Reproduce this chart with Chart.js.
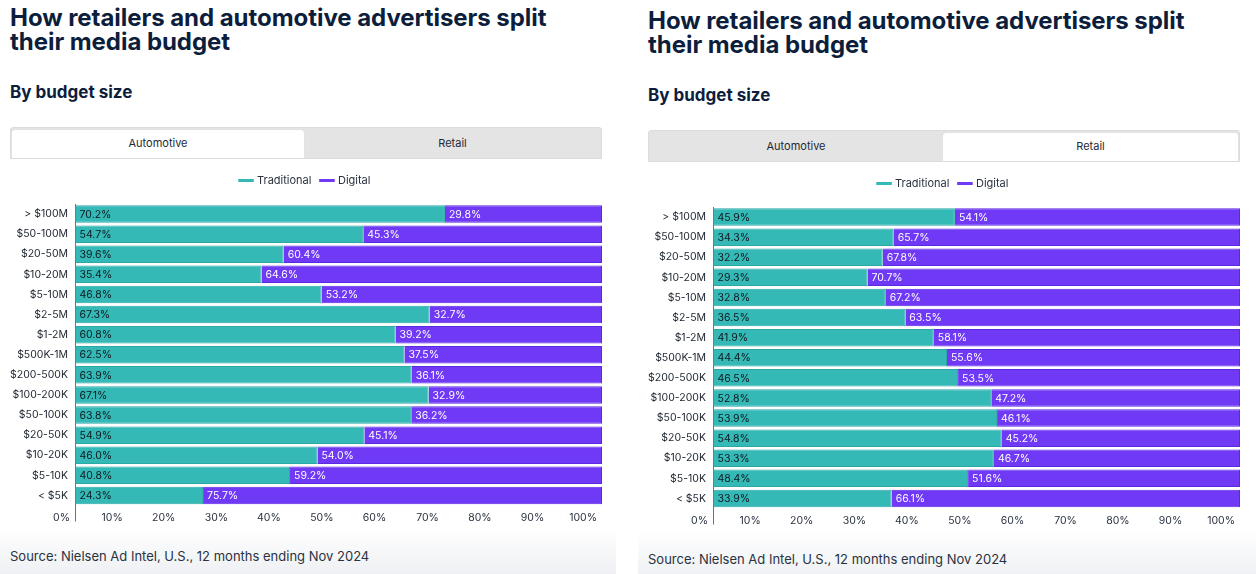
<!DOCTYPE html>
<html>
<head>
<meta charset="utf-8">
<script src="https://cdn.jsdelivr.net/npm/chart.js@4/dist/chart.umd.min.js"></script>
<style>
  html, body { margin: 0; padding: 0; background: #fff; }
  body { width: 1256px; height: 574px; position: relative; overflow: hidden; font-family: Inter, "Noto Sans", sans-serif; color: #0c1e3c; }
  .panel { position: absolute; top: 0; width: 616px; height: 574px; }
  .panel .foot { position: absolute; left: 0; right: 0; top: 528px; height: 46px; background: linear-gradient(#ffffff, #eef0f3); }
  .panel h1 { position: absolute; left: 10px; top: 6px; margin: 0; font-size: 24px; line-height: 24px; font-weight: 700; letter-spacing: -0.05px; }
  .panel h2 { position: absolute; left: 10px; top: 81px; margin: 0; font-size: 17px; line-height: 22px; font-weight: 700; }
  .tabs { position: absolute; left: 10px; top: 127px; width: 590px; height: 30px; background: #e4e4e4; border: 1px solid #dcdcdc; border-radius: 3px 3px 0 0; }
  .tab { position: absolute; top: 2px; height: 28px; line-height: 26px; text-align: center; font-size: 11px; color: #1d2838; }
  .tab.on { background: #fff; border-radius: 3px 3px 0 0; box-shadow: 0 0 1px #cfcfcf; }
  .tab.a { left: 1px; width: 292px; }
  .tab.b { left: 294px; width: 295px; }
  .chartbox { position: absolute; left: 0; top: 165px; width: 602px; height: 365px; }
  .source { position: absolute; left: 10px; top: 548px; font-size: 13px; color: #2a3240; }
</style>
</head>
<body>

<div class="panel" id="p1" style="left:0;">
  <div class="foot"></div>
  <h1>How retailers and automotive advertisers split<br>their media budget</h1>
  <h2>By budget size</h2>
  <div class="tabs"><div class="tab a on">Automotive</div><div class="tab b">Retail</div></div>
  <div class="chartbox"><canvas id="autoChart"></canvas></div>
  <div class="source">Source: Nielsen Ad Intel, U.S., 12 months ending Nov 2024</div>
</div>

<div class="panel" id="p2" style="left:638px; top:3px; width:618px;">
  <div class="foot"></div>
  <h1>How retailers and automotive advertisers split<br>their media budget</h1>
  <h2>By budget size</h2>
  <div class="tabs"><div class="tab a">Automotive</div><div class="tab b on">Retail</div></div>
  <div class="chartbox"><canvas id="retailChart"></canvas></div>
  <div class="source">Source: Nielsen Ad Intel, U.S., 12 months ending Nov 2024</div>
</div>

<script>
// budget size buckets, top to bottom
const budgetSizes = ['> $100M', '$50-100M', '$20-50M', '$10-20M', '$5-10M', '$2-5M', '$1-2M', '$500K-1M',
  '$200-500K', '$100-200K', '$50-100K', '$20-50K', '$10-20K', '$5-10K', '< $5K'];

// share of spend, in percent
const autoTraditional = [70.2, 54.7, 39.6, 35.4, 46.8, 67.3, 60.8, 62.5, 63.9, 67.1, 63.8, 54.9, 46.0, 40.8, 24.3];
const autoDigital = [29.8, 45.3, 60.4, 64.6, 53.2, 32.7, 39.2, 37.5, 36.1, 32.9, 36.2, 45.1, 54.0, 59.2, 75.7];
const retailTraditional = [45.9, 34.3, 32.2, 29.3, 32.8, 36.5, 41.9, 44.4, 46.5, 52.8, 53.9, 54.8, 53.3, 48.4, 33.9];
const retailDigital = [54.1, 65.7, 67.8, 70.7, 67.2, 63.5, 58.1, 55.6, 53.5, 47.2, 46.1, 45.2, 46.7, 51.6, 66.1];

// x axis ticks (percent)
const xTicks = [0, 10, 20, 30, 40, 50, 60, 70, 80, 90, 100];

const TEAL = '#34b9b6';
const PURPLE = '#6f39f6';
const AXIS = '#6b7280';
const FONT = 'Inter, "Noto Sans", sans-serif';
const SMALL = 10.5;

// Write the value at the start of every bar segment
const barLabels = {
  id: 'barLabels',
  afterDatasetsDraw(chart) {
    const ctx = chart.ctx;
    ctx.save();
    ctx.font = SMALL + 'px ' + FONT;
    ctx.textBaseline = 'middle';
    ctx.textAlign = 'left';
    chart.data.datasets.forEach((ds, i) => {
      chart.getDatasetMeta(i).data.forEach((bar, j) => {
        ctx.fillStyle = ds.labelColor;
        ctx.fillText(ds.data[j].toFixed(1) + '%', bar.base + 4, bar.y + 0.5);
      });
    });
    ctx.restore();
  }
};

// a bit more room under the legend, and centre it over the tabs rather than the canvas
const legendTweak = {
  id: 'legendTweak',
  afterInit(chart) {
    const fit = chart.legend.fit;
    chart.legend.fit = function () { fit.call(this); this.height += 8; };
  },
  afterLayout(chart) {
    chart.legend.left += 9;
  }
};

const makeChart = (canvasId, traditional, digital) => {
  return new Chart(document.getElementById(canvasId), {
    type: 'bar',
    data: {
      labels: budgetSizes,
      datasets: [
        { label: 'Traditional', data: traditional, backgroundColor: TEAL, borderColor: '#2aa9a6', borderWidth: 1, labelColor: '#10181f' },
        { label: 'Digital', data: digital, backgroundColor: PURPLE, borderColor: '#5b28e3', borderWidth: 1, labelColor: '#ffffff' }
      ]
    },
    options: {
      indexAxis: 'y',
      responsive: true,
      maintainAspectRatio: false,
      animation: false,
      layout: { padding: 0 },
      datasets: { bar: { barPercentage: 0.87, categoryPercentage: 1 } },
      plugins: {
        tooltip: { enabled: false },
        legend: {
          position: 'top',
          labels: {
            usePointStyle: true,
            pointStyle: 'line',
            boxWidth: 12,
            padding: 10,
            color: '#2a3240',
            font: { family: FONT, size: 11 },
            generateLabels(chart) {
              return Chart.defaults.plugins.legend.labels.generateLabels(chart).map(item => ({
                ...item, pointStyle: 'line', lineWidth: 3, strokeStyle: item.fillStyle
              }));
            }
          }
        }
      },
      scales: {
        x: {
          stacked: true,
          min: xTicks[0],
          max: xTicks[xTicks.length - 1],
          ticks: {
            stepSize: xTicks[1] - xTicks[0],
            callback: v => v + '%',
            align: 'end',
            labelOffset: -5,
            padding: -10,
            color: '#2a3240',
            font: { family: FONT, size: SMALL }
          },
          grid: {
            drawOnChartArea: false,
            drawTicks: true,
            tickLength: 16,
            color: c => (c.index === 0 ? AXIS : 'rgba(0,0,0,0)')
          },
          border: { display: false },
          afterFit(scale) { scale.height = 24.5; }
        },
        y: {
          stacked: true,
          grid: { display: false, drawTicks: false },
          border: { display: true, color: AXIS, width: 1 },
          ticks: { padding: 7, color: '#1e2530', font: { family: FONT, size: SMALL } },
          afterFit(scale) { scale.width = 75; }
        }
      }
    },
    plugins: [barLabels, legendTweak]
  });
};

makeChart('autoChart', autoTraditional, autoDigital);
makeChart('retailChart', retailTraditional, retailDigital);
</script>
</body>
</html>
